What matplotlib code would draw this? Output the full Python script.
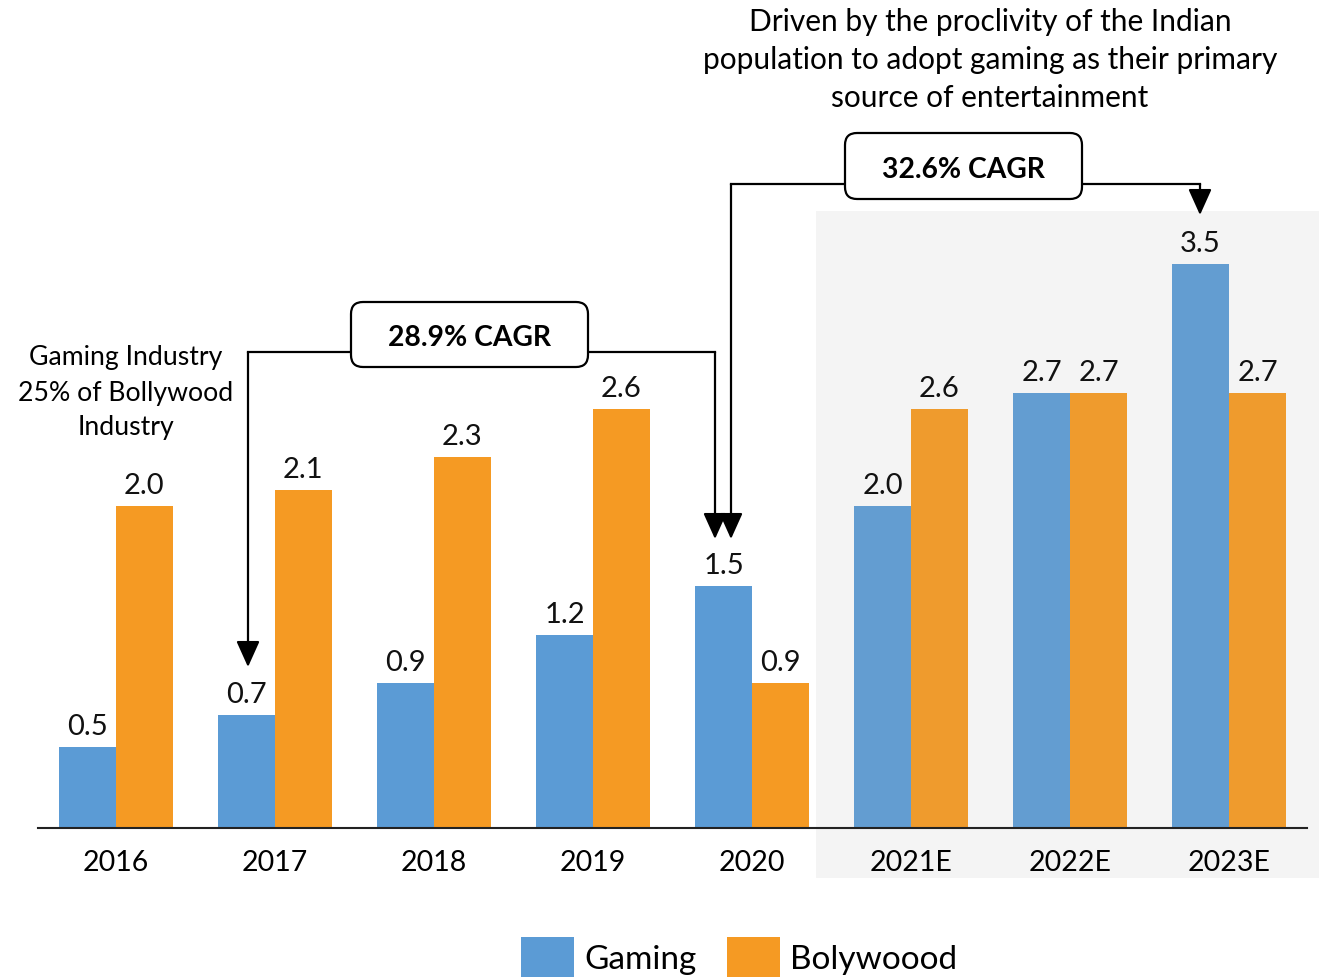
import matplotlib
matplotlib.use("Agg")
import matplotlib.pyplot as plt
from matplotlib.patches import Rectangle, FancyBboxPatch, FancyArrowPatch, Patch
from matplotlib.lines import Line2D
from matplotlib.transforms import Affine2D
import numpy as np

plt.rcParams['font.family'] = ['Lato', 'DejaVu Sans']

years = ["2016", "2017", "2018", "2019", "2020", "2021E", "2022E", "2023E"]
gaming = [0.5, 0.7, 0.9, 1.2, 1.5, 2.0, 2.7, 3.5]
bollywood = [2.0, 2.1, 2.3, 2.6, 0.9, 2.6, 2.7, 2.7]
n_actual = 5

W, H = 1319, 979
fig = plt.figure(figsize=(W / 100, H / 100), dpi=100)
ax = fig.add_axes([38 / W, 150 / H, (1307 - 38) / W, 829 / H])
ax.set_xlim(-0.49, 7.49)
ax.set_ylim(0, 829 / 161.1)

# pixel transform (origin top-left)
pix = Affine2D().scale(1, -1).translate(0, H)

# shaded forecast region
ax.add_patch(Rectangle((4.403, -0.31), 3.2, 4.14, facecolor="#F4F4F4",
                       edgecolor="none", zorder=0, clip_on=False))

x = np.arange(len(years))
bw = 0.358
gcol = ["#5B9BD5"] * n_actual + ["#639DD1"] * (len(years) - n_actual)
bcol = ["#F59A23"] * n_actual + ["#EF9B2D"] * (len(years) - n_actual)
ax.bar(x - bw / 2, gaming, bw, color=gcol, zorder=2)
ax.bar(x + bw / 2, bollywood, bw, color=bcol, zorder=2)

for xi, g, b in zip(x, gaming, bollywood):
    ax.text(xi - bw / 2, g + 0.05, f"{g:.1f}", ha="center", va="bottom",
            fontsize=21, color="#111111", zorder=3)
    ax.text(xi + bw / 2, b + 0.05, f"{b:.1f}", ha="center", va="bottom",
            fontsize=21, color="#111111", zorder=3)

ax.set_xticks(x)
ax.set_xticklabels(years, fontsize=20.5)
ax.tick_params(axis="x", length=0, pad=15)
ax.set_yticks([])
for s in ["top", "left", "right"]:
    ax.spines[s].set_visible(False)
ax.spines["bottom"].set_linewidth(1.5)
ax.spines["bottom"].set_color("#222222")
ax.patch.set_alpha(0)

# legend
handles = [Patch(facecolor="#5B9BD5", label="Gaming"),
           Patch(facecolor="#F59A23", label="Bolywoood")]
fig.legend(handles=handles, loc="center", bbox_to_anchor=(739 / W, 1 - 958 / H),
           ncol=2, frameon=False, fontsize=24, handlelength=1.6, handleheight=1.45,
           handletextpad=0.3, columnspacing=0.9)

# texts
fig.text(990 / W, 1 - 60 / H,
         "Driven by the proclivity of the Indian\npopulation to adopt gaming as their primary\nsource of entertainment",
         ha="center", va="center", fontsize=21.5, linespacing=1.42)
fig.text(126 / W, 1 - 393 / H, "Gaming Industry\n25% of Bollywood\nIndustry",
         ha="center", va="center", fontsize=19.2, linespacing=1.5)

def box(x0, y0, x1, y1, label):
    r = 12
    fig.patches.append(FancyBboxPatch((x0 + r, y1 + r), (x1 - x0) - 2 * r, (y0 - y1) - 2 * r,
                                      boxstyle=f"round,pad={r},rounding_size={r}",
                                      transform=pix, facecolor="white",
                                      edgecolor="black", linewidth=1.6, zorder=5))
    fig.text((x0 + x1) / 2 / W, 1 - ((y0 + y1) / 2 + 3) / H, label, ha="center",
             va="center", fontsize=20.3, fontweight="bold", zorder=6)

def elbow(pts):
    xs = [p[0] for p in pts[:-1]]
    ys = [p[1] for p in pts[:-1]]
    fig.lines.append(Line2D(xs, ys, transform=pix, color="black", linewidth=1.6,
                            solid_joinstyle="miter", zorder=4))
    fig.patches.append(FancyArrowPatch(pts[-2], pts[-1], transform=pix,
                                       arrowstyle="-|>,head_width=0.36,head_length=0.8",
                                       mutation_scale=20, shrinkA=0, shrinkB=0,
                                       color="black", linewidth=1.6, zorder=4))

elbow([(360, 353), (248, 353), (248, 668)])
elbow([(580, 353), (715, 353), (715, 540)])
elbow([(850, 185), (731, 185), (731, 540)])
elbow([(1075, 185), (1200, 185), (1200, 216)])
box(351, 368, 588, 303, "28.9% CAGR")
box(845, 200, 1082, 134, "32.6% CAGR")

fig.savefig("out.png", dpi=100)
